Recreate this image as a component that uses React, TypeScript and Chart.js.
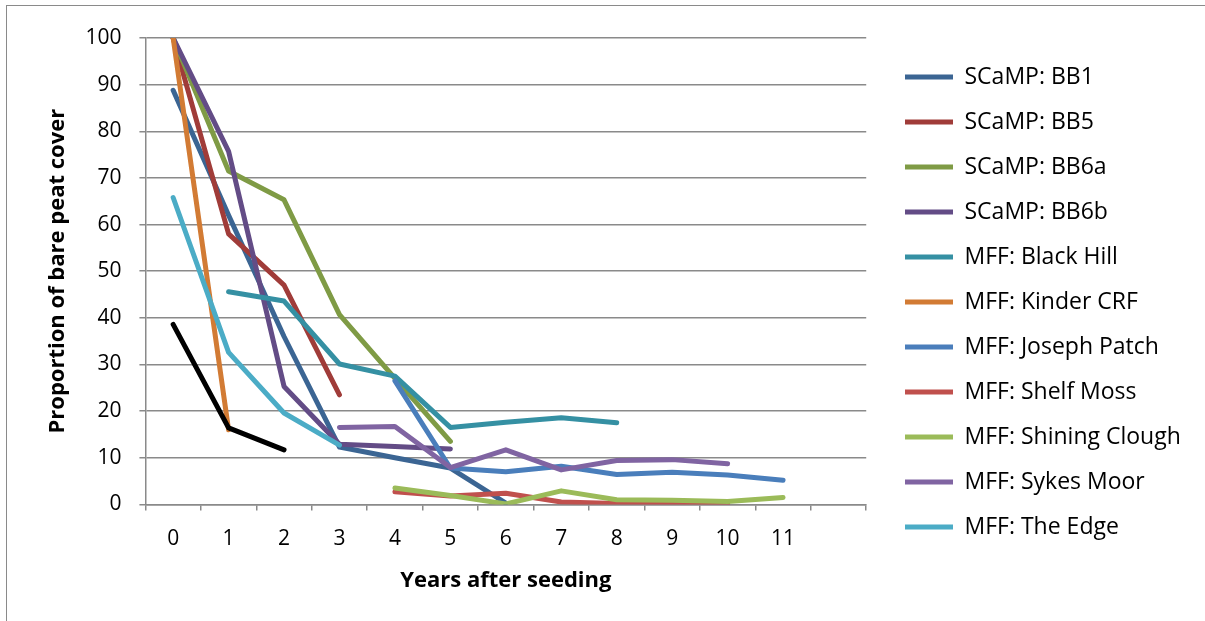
import React, { useEffect, useRef } from "react";
import { Chart, registerables } from "chart.js";

Chart.register(...registerables);

const years = ["0", "1", "2", "3", "4", "5", "6", "7", "8", "9", "10", "11", ""];

const seriesNames = [
  "SCaMP: BB1",
  "SCaMP: BB5",
  "SCaMP: BB6a",
  "SCaMP: BB6b",
  "MFF: Black Hill",
  "MFF: Kinder CRF",
  "MFF: Joseph Patch",
  "MFF: Shelf Moss",
  "MFF: Shining Clough",
  "MFF: Sykes Moor",
  "MFF: The Edge",
  "Unlabelled",
];

const seriesColors = [
  "#3B6593",
  "#A03C39",
  "#7F9B45",
  "#634C86",
  "#3590A3",
  "#D27B34",
  "#4A7EBB",
  "#C0504D",
  "#9BBB59",
  "#8064A2",
  "#4BACC6",
  "#000000",
];

const bb1 = [88.8, 62, 36, 12.3, 10, 7.8, 0.3];
const bb5 = [100, 58, 47, 23.5];
const bb6a = [100, 71.5, 65.3, 40.7, 27, 13.5];
const bb6b = [100, 75.7, 25.3, 12.9, 12.4, 11.9];
const blackHill = [null, 45.6, 43.6, 30.1, 27.5, 16.5, 17.6, 18.6, 17.5];
const kinderCRF = [100, 16];
const josephPatch = [null, null, null, null, 26.5, 7.8, 7.0, 8.2, 6.4, 6.9, 6.3, 5.2];
const shelfMoss = [null, null, null, null, 2.7, 1.8, 2.4, 0.5, 0.2, 0.1, 0.1];
const shiningClough = [null, null, null, null, 3.5, 1.9, 0.1, 2.9, 1.0, 0.9, 0.6, 1.5];
const sykesMoor = [null, null, null, 16.5, 16.7, 7.9, 11.7, 7.4, 9.4, 9.6, 8.7];
const theEdge = [65.8, 32.6, 19.6, 12.7];
const unlabelled = [38.6, 16.4, 11.7];

const seriesValues = [
  bb1,
  bb5,
  bb6a,
  bb6b,
  blackHill,
  kinderCRF,
  josephPatch,
  shelfMoss,
  shiningClough,
  sykesMoor,
  theEdge,
  unlabelled,
];

const yTitle = "Proportion of bare peat cover";
const xTitle = "Years after seeding";

const FONT = "'Open Sans', 'DejaVu Sans', sans-serif";
const GRID = "#8A8A8A";

const LEGEND_PAD = 22;
const LEGEND_LINE_START = 905;

const legendPlace = {
  id: "legendPlace",
  afterLayout(chart: any) {
    const l = chart.legend;
    if (!l) return;
    const w = l.width;
    l.left = LEGEND_LINE_START - LEGEND_PAD;
    l.right = l.left + w;
    l.top -= 14;
    l.bottom -= 14;
  },
};

export default function App() {
  const ref = useRef<HTMLCanvasElement | null>(null);

  useEffect(() => {
    if (!ref.current) return;
    const datasets = seriesValues.map((vals, i) => ({
      label: seriesNames[i],
      data: vals,
      borderColor: seriesColors[i],
      backgroundColor: seriesColors[i],
      borderWidth: 5,
      borderCapStyle: "round" as const,
      borderJoinStyle: "round" as const,
      pointRadius: 0,
      pointHoverRadius: 0,
      tension: 0,
      fill: false,
      spanGaps: false,
      order: -i,
    }));

    const chart = new Chart(ref.current, {
      type: "line",
      data: { labels: years, datasets },
      plugins: [legendPlace],
      options: {
        animation: false,
        responsive: false,
        maintainAspectRatio: false,
        layout: { padding: { left: 45, top: 38, right: 31, bottom: 27 } },
        plugins: {
          tooltip: { enabled: false },
          legend: {
            position: "right",
            align: "center",
            maxWidth: 400,
            labels: {
              usePointStyle: true,
              pointStyle: "line",
              pointStyleWidth: 48,
              boxHeight: 23,
              padding: LEGEND_PAD,
              color: "#000",
              font: { family: FONT, size: 23 },
              filter: (item: any) => item.datasetIndex !== 11,
              sort: (a: any, b: any) => a.datasetIndex - b.datasetIndex,
            },
          },
        },
        scales: {
          x: {
            type: "category",
            offset: true,
            grid: {
              display: true,
              offset: true,
              drawOnChartArea: false,
              drawTicks: true,
              tickLength: 6,
              color: GRID,
              lineWidth: 1.5,
            },
            border: { display: true, color: GRID, width: 1.5 },
            ticks: {
              color: "#000",
              font: { family: FONT, size: 21 },
              padding: 16,
              maxRotation: 0,
              autoSkip: false,
            },
            title: {
              display: true,
              text: xTitle,
              color: "#000",
              font: { family: FONT, size: 22, weight: "bold" },
              padding: { top: 0, bottom: 0 },
            },
          },
          y: {
            min: 0,
            max: 100,
            grid: {
              color: GRID,
              lineWidth: 1.5,
              drawTicks: true,
              tickLength: 6,
            },
            border: { display: true, color: GRID, width: 1.5 },
            ticks: {
              stepSize: 10,
              color: "#000",
              font: { family: FONT, size: 21 },
              padding: 18,
            },
            title: {
              display: true,
              text: yTitle,
              color: "#000",
              font: { family: FONT, size: 22, weight: "bold" },
              padding: { top: 0, bottom: -4 },
            },
          },
        },
      },
    });
    return () => chart.destroy();
  }, []);

  return (
    <div
      style={{
        position: "fixed",
        left: 0,
        top: 0,
        width: 1205,
        height: 621,
        background: "#fff",
        overflow: "hidden",
      }}
    >
      <div
        style={{
          position: "absolute",
          left: 6,
          top: 5,
          width: 1400,
          height: 800,
          border: "1.5px solid #8A8A8A",
        }}
      />
      <canvas
        ref={ref}
        width={1205}
        height={621}
        style={{ position: "absolute", left: 0, top: 0, width: 1205, height: 621 }}
      />
    </div>
  );
}
